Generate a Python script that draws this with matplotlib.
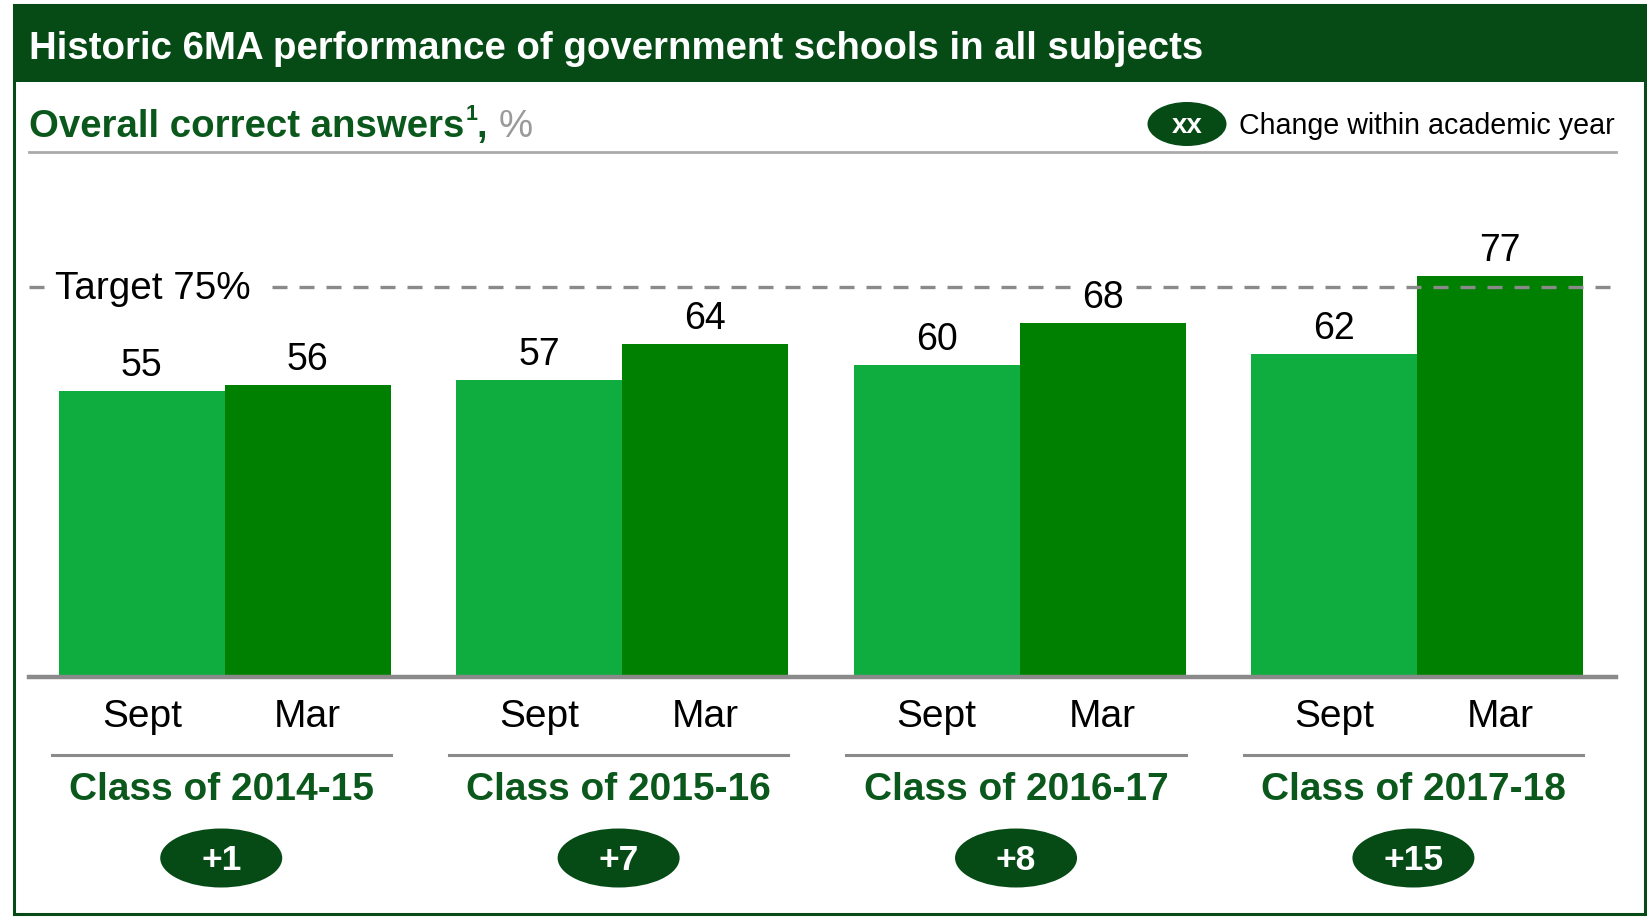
"""Historic 6MA performance: Sept vs Mar bars per class cohort."""
import numpy as np
import matplotlib
matplotlib.use("Agg")
import matplotlib.pyplot as plt
from matplotlib.patches import Rectangle, Ellipse
from matplotlib.transforms import blended_transform_factory

plt.rcParams["font.family"] = ["Liberation Sans", "DejaVu Sans"]

classes = ["Class of 2014-15", "Class of 2015-16", "Class of 2016-17", "Class of 2017-18"]
sept = [55, 57, 60, 62]
mar = [56, 64, 68, 77]
periods = ["Sept", "Mar"]
target = 75

DARK = "#064B16"; TXT = "#0B581C"; LIGHT = "#0FAD3F"; MID = "#008000"; GREY = "#8A8A8A"
W, H = 1647, 917
fig = plt.figure(figsize=(W / 100, H / 100), dpi=100)
over = fig.add_axes([0, 0, 1, 1], zorder=0)
over.set_xlim(0, W); over.set_ylim(H, 0); over.axis("off")

# bar axes: baseline at px 676.5, 5.2 px per percentage point, groups 397.4 px apart
base_px, ppu, c0, step = 676.5, 5.2, 224.8, 397.4
ymax = 90
ax = fig.add_axes([0, (H - base_px) / H, 1, ymax * ppu / H], zorder=1)
ax.patch.set_alpha(0)
ax.set_xlim(-c0 / step, (W - c0) / step); ax.set_ylim(0, ymax)
for s in ax.spines.values(): s.set_visible(False)
ax.set_xticks([]); ax.set_yticks([])

x = np.arange(len(classes)); bw = 0.4177
b1 = ax.bar(x - bw / 2, sept, bw, color=LIGHT, zorder=2)
b2 = ax.bar(x + bw / 2, mar, bw, color=MID, zorder=2)
for bars in (b1, b2):
    for t in ax.bar_label(bars, padding=5, fontsize=27):
        t.set_zorder(5)
        t.set_bbox(dict(fc="white", ec="none", pad=2))

xl = -(c0 - 29) / step; xr = (1616 - c0) / step
ax.plot([xl, xr], [target, target], color=GREY, lw=2.4, ls=(0, (4.5, 3.6)), zorder=3, solid_capstyle="butt")
tr = blended_transform_factory(ax.transData, over.transData)
ax.text(xl + 26 / step, 289, "Target 75% ", transform=tr, fontsize=27.8, va="center", ha="left", zorder=4,
        bbox=dict(fc="white", ec="none", pad=3))
ax.plot([xl, xr], [0, 0], color=GREY, lw=3.2, zorder=3, clip_on=False)

for i, cl in enumerate(classes):
    ax.text(i - bw / 2, 717, periods[0], transform=tr, ha="center", va="center", fontsize=28)
    ax.text(i + bw / 2, 717, periods[1], transform=tr, ha="center", va="center", fontsize=28)
    l0, l1 = i - 0.436, i + 0.418
    ax.plot([l0, l1], [755, 755], transform=tr, color=GREY, lw=2.2, clip_on=False)
    cx = (l0 + l1) / 2
    ax.text(cx, 790, cl, transform=tr, ha="center", va="center", fontsize=28, fontweight="bold", color=TXT)
    ax.add_patch(Ellipse((cx, 858), 122 / step, 59, transform=tr, fc=DARK, ec="none", clip_on=False))
    ax.text(cx, 860, f"+{mar[i] - sept[i]}", transform=tr, ha="center", va="center",
            fontsize=25.5, fontweight="bold", color="white")

# header, frame and legend
over.add_patch(Rectangle((14, 5), W - 14, 77, fc=DARK, ec="none"))
over.add_patch(Rectangle((14, 5), 1645 - 14, 914 - 5, fill=False, ec=DARK, lw=2.2))
over.text(29, 49, "Historic 6MA performance of government schools in all subjects", color="white",
          fontsize=27.6, fontweight="bold", va="center")
r = fig.canvas.get_renderer()
t = over.text(29, 127, "Overall correct answers", color=TXT, fontsize=27.6, fontweight="bold", va="center")
e = t.get_window_extent(r)
t2 = over.text(e.x1 + 1, 114, "1", color=TXT, fontsize=15.5, fontweight="bold", va="center")
e2 = t2.get_window_extent(r)
t3 = over.text(e2.x1, 127, ", ", color=TXT, fontsize=27.6, fontweight="bold", va="center")
e3 = t3.get_window_extent(r)
over.text(e3.x1, 127, "%", color="#9A9A9A", fontsize=27.6, va="center")
over.plot([29, 1616], [152, 152], color="#AAAAAA", lw=2)
over.add_patch(Ellipse((1187, 124), 79, 44, fc=DARK, ec="none"))
over.text(1187, 126, "xx", color="white", fontsize=20, fontweight="bold", ha="center", va="center")
over.text(1239, 126, "Change within academic year", fontsize=20.6, va="center")

fig.savefig("out.png", dpi=100)
